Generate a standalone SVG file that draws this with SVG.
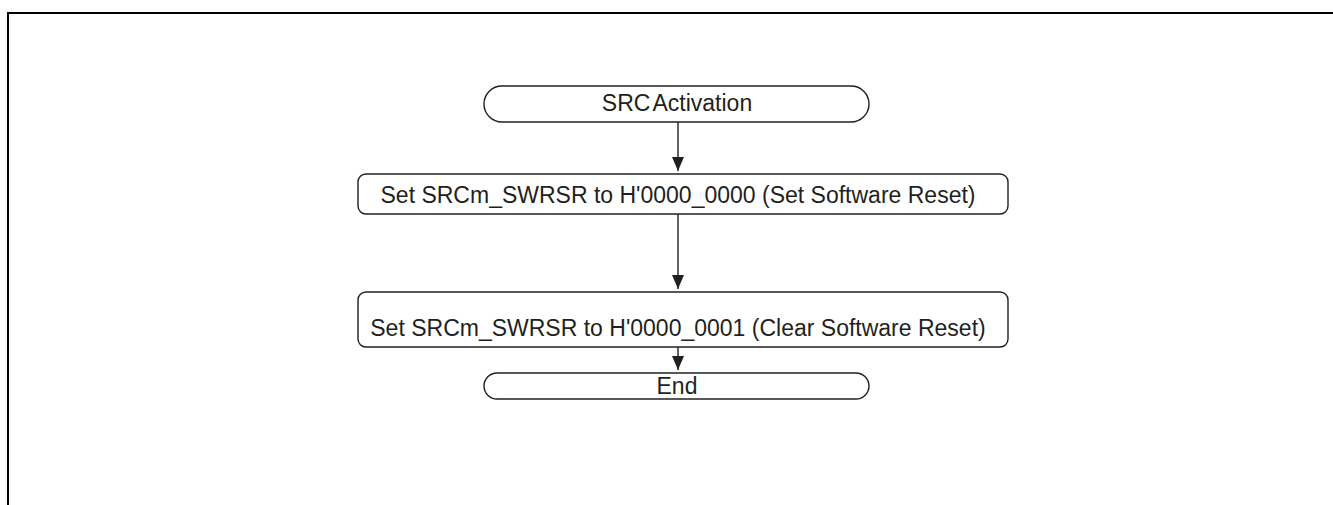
<svg xmlns="http://www.w3.org/2000/svg" width="1333" height="505" viewBox="0 0 1333 505">
  <style>
    .frame { fill: none; stroke: #000; stroke-width: 2; }
    .box { fill: #fff; stroke: #231f20; stroke-width: 1.4; }
    .lbl { font-family: "Liberation Sans", Arial, sans-serif; font-size: 23px; fill: #231f20; text-anchor: middle; }
    .conn { stroke: #231f20; stroke-width: 1.4; fill: none; }
  </style>
  <defs>
    <marker id="arrow" viewBox="0 0 14 12" refX="14" refY="6" markerWidth="14" markerHeight="12" markerUnits="userSpaceOnUse" orient="auto">
      <path d="M0,0 L14,6 L0,12 z" fill="#231f20"/>
    </marker>
  </defs>
  <rect width="1333" height="505" fill="#fff"/>
  <path class="frame" d="M8,505 V13 H1333"/>

  <g id="connectors">
    <line class="conn" x1="678" y1="122" x2="678" y2="171" marker-end="url(#arrow)"/>
    <line class="conn" x1="678" y1="214" x2="678" y2="289" marker-end="url(#arrow)"/>
    <line class="conn" x1="678" y1="347" x2="678" y2="370" marker-end="url(#arrow)"/>
  </g>

  <g id="start">
    <rect class="box" x="484" y="86" width="385" height="36" rx="18" ry="18"/>
    <text class="lbl" x="677" y="111" word-spacing="-3">SRC Activation</text>
  </g>

  <g id="step1">
    <rect class="box" x="358" y="174" width="650" height="40" rx="8" ry="8"/>
    <text class="lbl" x="678" y="203">Set SRCm_SWRSR to H'0000_0000 (Set Software Reset)</text>
  </g>

  <g id="step2">
    <rect class="box" x="358" y="292" width="650" height="55" rx="8" ry="8"/>
    <text class="lbl" x="678" y="336">Set SRCm_SWRSR to H'0000_0001 (Clear Software Reset)</text>
  </g>

  <g id="end">
    <rect class="box" x="484" y="373" width="385" height="26" rx="13" ry="13"/>
    <text class="lbl" x="677" y="394">End</text>
  </g>
</svg>
